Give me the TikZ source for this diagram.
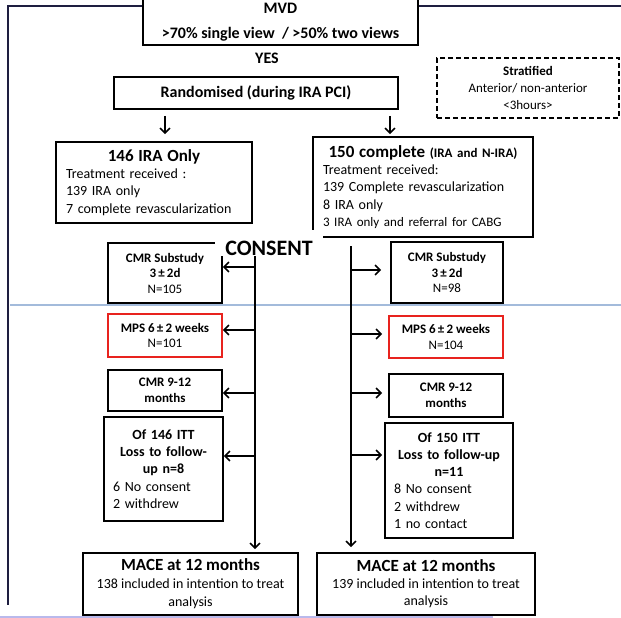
\documentclass[tikz,border=0pt]{standalone}
\usepackage{fontspec}
\setmainfont{Carlito}
\usepackage{tikz}
\usetikzlibrary{arrows.meta,positioning}
\definecolor{FrameNavy}{HTML}{1E1E40}
\definecolor{RuleBlue}{HTML}{A3BBDB}
\definecolor{RuleLilac}{HTML}{B9B9EC}
\definecolor{MpsRed}{HTML}{E8231E}
\newcommand\fsBig{\fontsize{17}{20}\selectfont\bfseries}
\newcommand\fsHead{\fontsize{16}{19}\selectfont\bfseries}
\newcommand\fsBody{\fontsize{14}{17.3}\selectfont}
\newcommand\fsSmall{\fontsize{13}{15.5}\selectfont}
\tikzset{
  box/.style={draw=black,line width=1.6pt,fill=white,align=center,inner sep=0pt},
  listbox/.style={box,align=left,font=\fsBody},
  study/.style={box,font=\fsSmall,minimum width=114pt},
  scan/.style={study,draw=MpsRed},
  stratbox/.style={box,dash pattern=on 5pt off 3pt,font=\fontsize{13}{17}\selectfont},
  cover/.style={fill=white,inner sep=0pt,font=\fontsize{22}{26}\selectfont\bfseries},
  flow/.style={-{Straight Barb[length=5pt,width=10pt]},line width=1.6pt},
  frame/.style={draw=FrameNavy,line width=1.6pt}
}

\begin{document}
\begin{tikzpicture}[x=1pt,y=-1pt]
  \useasboundingbox (0,0) rectangle (621,618);
  % frame and rules
  \draw[frame] (621,6) -- (8,6) -- (8,605);
  \draw[RuleBlue,line width=2pt] (10,304.5) -- (621,304.5);
  \draw[RuleLilac,line width=2pt] (0,616.5) -- (493,616.5);
  % top of the flow
  \node[box,font=\fsHead,minimum width=275pt,minimum height=62pt] (mvd) at (280.5,14)
    {\rule{0pt}{26pt}MVD\\[6pt]>70\% single view~ / >50\% two views};
  \node[box,font=\fsHead,minimum width=284pt,minimum height=32pt] (rand) at (256,93)
    {Randomised (during IRA PCI)};
  \node[font=\fsHead,inner sep=0pt,above=12pt of rand,xshift=11pt] (yes) {YES};
  \node[stratbox,minimum width=182pt,minimum height=60pt] (strat) at (528,88)
    {\textbf{Stratified}\\Anterior/ non-anterior\\<3hours>};
  % arms
  \node[listbox,minimum width=196pt,minimum height=81pt,text width=176pt] (ira) at (154,182.5)
    {{\centering\fsBig 146 IRA Only\par}Treatment received :\\139 IRA only\\7 complete revascularization};
  \node[listbox,minimum width=220pt,minimum height=100pt,text width=200pt] (full) at (423,187)
    {{\centering\fsBig 150 complete {\fontsize{13}{16}\selectfont(IRA and N-IRA)}\par}Treatment received:\\139 Complete revascularization\\8 IRA only\\{\fsSmall 3 IRA only and referral for CABG}};
  \draw[flow] ([xshift=-91pt,yshift=-6pt]rand.south) -- ([xshift=11pt,yshift=7pt]ira.north);
  \draw[flow] ([xshift=134pt,yshift=-6pt]rand.south) -- ([xshift=-33pt,yshift=2pt]full.north);
  % follow-up, IRA only
  \node[study,minimum height=60pt] (cmrL) at (165,273) {\textbf{CMR Substudy}\\\textbf{3\,±\,2d}\\N=105};
  \node[scan,minimum height=43pt] (mpsL) at (165,335.5) {\textbf{MPS 6\,±\,2 weeks}\\N=101};
  \node[study,minimum height=41pt] (cmr9L) at (165,390.5) {\textbf{CMR 9-12}\\\textbf{months}};
  \node[listbox,minimum width=119pt,minimum height=104pt,text width=101pt] (ofL) at (163.5,469)
    {{\centering\bfseries Of 146 ITT\\Loss to follow-\\up n=8\par}6 No consent\\2 withdrew};
  \node[box,minimum width=215pt,minimum height=62pt,font=\fontsize{14}{18}\selectfont] (maceL) at (190.5,584)
    {{\fsBig MACE at 12 months}\\138 included in intention to treat\\analysis};
  % follow-up, complete
  \node[study,minimum width=112pt,minimum height=61pt] (cmrR) at (447,272.5) {\textbf{CMR Substudy}\\\textbf{3\,±\,2d}\\N=98};
  \node[scan,minimum height=42pt] (mpsR) at (446,337) {\textbf{MPS 6\,±\,2 weeks}\\N=104};
  \node[study,minimum height=43pt] (cmr9R) at (446,395.5) {\textbf{CMR 9-12}\\\textbf{months}};
  \node[listbox,minimum width=128pt,minimum height=115pt,text width=110pt] (ofR) at (449,480.5)
    {{\centering\bfseries Of 150 ITT\\Loss to follow-up\\n=11\par}8 No consent\\2 withdrew\\1 no contact};
  \node[box,minimum width=218pt,minimum height=62pt,font=\fontsize{14}{17}\selectfont] (maceR) at (426,584)
    {{\fsBig MACE at 12 months}\\139 included in intention to treat\\analysis};
  % consent and trunks
  \node[cover,minimum width=108pt,minimum height=26pt,text height=24pt,text depth=0pt] (consent) at (269,243) {CONSENT};
  \coordinate (armL) at (255,0); \coordinate (trunkR) at (351,246);
  \coordinate (l1) at (255,267); \coordinate (l2) at (255,330);
  \coordinate (l3) at (255,393); \coordinate (l4) at (255,456);
  \coordinate (r1) at (351,270); \coordinate (r2) at (351,334);
  \coordinate (r3) at (351,393); \coordinate (r4) at (351,455);
  \draw[flow,shorten >=3pt] (consent.south -| armL) -- (maceL.north -| armL);
  \draw[flow,shorten >=5pt] (trunkR) -- (maceR.north -| trunkR);
  \draw[flow] (l1) -- (cmrL.east |- l1); \draw[flow] (l2) -- (mpsL.east |- l2);
  \draw[flow] (l3) -- (cmr9L.east |- l3); \draw[flow] (l4) -- (ofL.east |- l4);
  \draw[flow,shorten >=9pt] (r1) -- (cmrR.west |- r1); \draw[flow,shorten >=6pt] (r2) -- (mpsR.west |- r2);
  \draw[flow,shorten >=6pt] (r3) -- (cmr9R.west |- r3); \draw[flow,shorten >=2pt] (r4) -- (ofR.west |- r4);
\end{tikzpicture}
\end{document}
